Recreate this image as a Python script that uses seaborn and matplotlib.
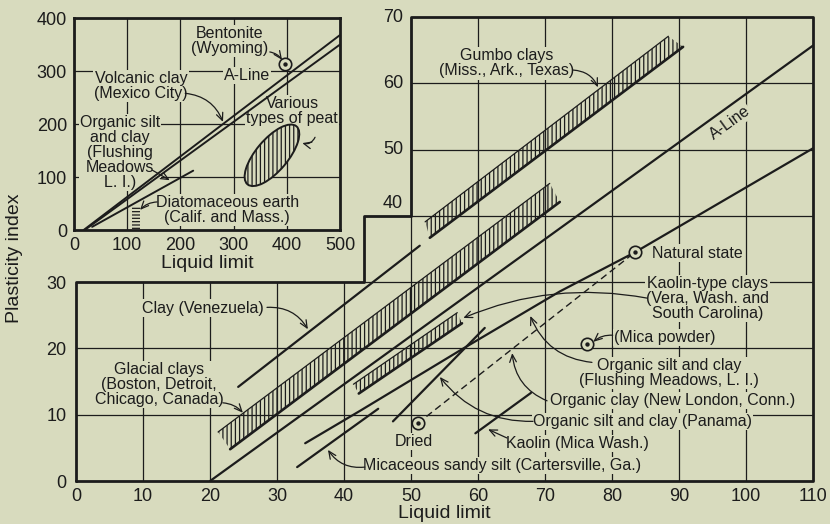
import matplotlib
matplotlib.use('Agg')
import matplotlib.pyplot as plt
import seaborn as sns
from matplotlib.patches import Ellipse, Rectangle

BG = '#d8dbbe'
INK = '#1c1c1c'

# ---- main chart: liquid limit vs plasticity index ----
a_line_ll = [20, 110]
a_line_pi = [0, 65.7]
venezuela_ll = [24.2, 51.3]
venezuela_pi = [14.2, 35.5]
gumbo_low_ll = [52.8, 90.6]
gumbo_low_pi = [36.7, 65.5]
gumbo_up_ll = [52.1, 88.4]
gumbo_up_pi = [39.1, 67.1]
glacial_low_ll = [23.0, 72.2]
glacial_low_pi = [4.8, 42.1]
glacial_up_ll = [21.2, 70.7]
glacial_up_pi = [7.4, 44.9]
kaolin_type_low_ll = [42.2, 57.6]
kaolin_type_low_pi = [13.2, 23.8]
kaolin_type_up_ll = [41.4, 56.9]
kaolin_type_up_pi = [14.6, 25.4]
flushing_ll = [34.2, 42.4, 57.8, 72.2, 83.4, 110]
flushing_pi = [5.7, 10.6, 20.0, 28.6, 34.5, 50.2]
panama_ll = [47.3, 61.0]
panama_pi = [9.0, 23.1]
micaceous_ll = [33.0, 45.1]
micaceous_pi = [2.1, 10.9]
kaolin_mica_ll = [59.6, 67.9]
kaolin_mica_pi = [7.2, 13.3]
new_london_ll = [51.0, 83.4]   # dried -> natural state
new_london_pi = [8.7, 34.5]
points_ll = [51.0, 83.4, 76.3]  # dried, natural state, mica powder
points_pi = [8.7, 34.5, 20.7]

main_xticks = list(range(0, 111, 10))
main_yticks_low = [0, 10, 20, 30]
main_yticks_up = [40, 50, 60, 70]

# ---- inset: wide range ----
inset_a_ll = [20, 500]
inset_a_pi = [0, 350]
volcanic_ll = [18, 500]
volcanic_pi = [0, 368]
inset_flushing_ll = [34, 224]
inset_flushing_pi = [6, 112]
bentonite_ll = [397]
bentonite_pi = [313]
diatom_ll = [109, 124]
diatom_pi = [0, 43]
peat_center = (372, 141)
peat_size = (143, 60)
peat_angle = 50

inset_xticks = [0, 100, 200, 300, 400, 500]
inset_yticks = [0, 100, 200, 300, 400]

# labels: text, text position, arrow start, arrow end, curvature
main_notes = [
    ('Gumbo clays\n(Miss., Ark., Texas)', (64.2, 63.0), (74.2, 62.0), (77.9, 59.4), -0.3),
    ('Kaolin-type clays\n(Vera, Wash. and\nSouth Carolina)', (94.2, 27.5), (85.2, 27.6), (57.8, 24.6), 0.15),
    ('(Mica powder)', (87.9, 21.7), (80.1, 22.0), (77.2, 21.0), 0.2),
    ('Organic silt and clay\n(Flushing Meadows, L. I.)', (88.5, 16.3), (77.0, 17.9), (67.8, 24.9), -0.3),
    ('Organic clay (New London, Conn.)', (89.0, 12.1), (70.3, 12.1), (65.1, 19.3), -0.3),
    ('Organic silt and clay (Panama)', (84.6, 9.0), (68.2, 9.0), (54.3, 15.7), -0.25),
    ('Kaolin (Mica Wash.)', (74.8, 5.7), (64.3, 6.5), (61.5, 7.8), 0.0),
    ('Micaceous sandy silt (Cartersville, Ga.)', (63.6, 2.3), (43.1, 2.1), (37.6, 4.7), -0.3),
    ('Clay (Venezuela)', (19.0, 26.1), (28.5, 26.2), (34.6, 22.9), -0.3),
    ('Glacial clays\n(Boston, Detroit,\nChicago, Canada)', (12.4, 14.6), (21.9, 11.8), (24.9, 10.3), -0.2),
]
inset_notes = [
    ('Bentonite\n(Wyoming)', (293, 357), (368, 336), (391, 321), -0.2),
    ('Volcanic clay\n(Mexico City)', (126, 272), (209, 258), (280, 204), -0.3),
    ('Various\ntypes of peat', (410, 225), (453, 175), (429, 164), -0.4),
    ('Organic silt\nand clay\n(Flushing\nMeadows\nL. I.)', (86, 147), (147, 113), (180, 94), 0.0),
    ('Diatomaceous earth\n(Calif. and Mass.)', (288, 38), (156, 53), (124, 38), 0.2),
]

sns.set_theme(style='white')
plt.rcParams['font.family'] = ['Liberation Sans', 'DejaVu Sans']
plt.rcParams['hatch.color'] = INK
plt.rcParams['hatch.linewidth'] = 0.9

fig = plt.figure(figsize=(8.3, 5.24), dpi=100, facecolor=BG)
ax = fig.add_axes([0.0916, 0.082, 0.888, 0.8855])
ax.set_facecolor('none')
ax.set_xlim(0, 110)
ax.set_ylim(0, 70)
for s in ax.spines.values():
    s.set_visible(False)

STEP = 43
# grid, cut back where the inset sits
for x in main_xticks[1:-1]:
    top = 30 if x < STEP else 70
    ax.plot([x, x], [0, top], color=INK, lw=0.9, zorder=1)
for y in range(10, 70, 10):
    left = 0 if y < 30 else (STEP if y <= 40 else 50)
    ax.plot([left, 110], [y, y], color=INK, lw=0.9, zorder=1)

frame_x = [0, 110, 110, 50, 50, STEP, STEP, 0, 0]
frame_y = [0, 0, 70, 70, 40, 40, 30, 30, 0]
ax.plot(frame_x, frame_y, color=INK, lw=2, clip_on=False, zorder=4)


def line(a, xs, ys, lw=1.6, **kw):
    sns.lineplot(x=xs, y=ys, ax=a, color=INK, lw=lw, sort=False,
                 estimator=None, legend=False, zorder=3, **kw)


def band(a, up_x, up_y, low_x, low_y):
    a.fill(up_x + low_x[::-1], up_y + low_y[::-1], facecolor='none',
           edgecolor=INK, hatch='||||', lw=0, zorder=2)
    line(a, low_x, low_y, lw=1.9)
    line(a, up_x, up_y, lw=0.9)


line(ax, a_line_ll, a_line_pi)
line(ax, venezuela_ll, venezuela_pi)
band(ax, gumbo_up_ll, gumbo_up_pi, gumbo_low_ll, gumbo_low_pi)
band(ax, glacial_up_ll, glacial_up_pi, glacial_low_ll, glacial_low_pi)
band(ax, kaolin_type_up_ll, kaolin_type_up_pi, kaolin_type_low_ll, kaolin_type_low_pi)
line(ax, flushing_ll, flushing_pi)
line(ax, panama_ll, panama_pi)
line(ax, micaceous_ll, micaceous_pi)
line(ax, kaolin_mica_ll, kaolin_mica_pi)
line(ax, new_london_ll, new_london_pi, lw=1.0, linestyle=(0, (5, 3)))

sns.scatterplot(x=points_ll, y=points_pi, ax=ax, s=80, facecolor=BG,
                edgecolor=INK, linewidth=1.2, zorder=6)
sns.scatterplot(x=points_ll, y=points_pi, ax=ax, s=10, color=INK,
                linewidth=0, zorder=7)

box = dict(fc=BG, ec='none', pad=0.8)
arrow = '->,head_length=0.45,head_width=0.2'
for txt, pos, src, dst, rad in main_notes:
    ax.text(pos[0], pos[1], txt, ha='center', va='center', fontsize=11.5,
            linespacing=1.0, color=INK, bbox=box, zorder=2.5)
    ax.annotate('', xy=dst, xytext=src, zorder=5,
                arrowprops=dict(arrowstyle=arrow, color=INK, lw=0.9,
                                shrinkA=0, shrinkB=0,
                                connectionstyle=f'arc3,rad={rad}'))
ax.text(86.0, 34.4, 'Natural state', ha='left', va='center', fontsize=11.5,
        color=INK, bbox=box, zorder=2.5)
ax.text(50.4, 6.0, 'Dried', ha='center', va='center', fontsize=11.5,
        color=INK, bbox=box, zorder=2.5)
ax.text(97.6, 54.0, 'A-Line', ha='center', va='center', fontsize=11.5,
        rotation=36, color=INK, bbox=box, zorder=2.5)

ax.set_xticks(main_xticks)
ax.set_yticks(main_yticks_low)
ax.tick_params(length=0, labelsize=13, colors=INK)
ax.tick_params(axis='x', pad=5)
ax.tick_params(axis='y', pad=7)
for v in main_yticks_up:
    ax.text(48.8, v + (1.9 if v == 40 else 0), str(v), ha='right',
            va='center', fontsize=13, color=INK)
ax.set_xlabel('Liquid limit', fontsize=14, color=INK, labelpad=0)

# ---- inset ----
ins = fig.add_axes([0.0892, 0.561, 0.3205, 0.4046])
ins.set_facecolor(BG)
ins.set_xlim(0, 500)
ins.set_ylim(0, 400)
for s in ins.spines.values():
    s.set_color(INK)
    s.set_linewidth(2)
    s.set_zorder(4)
ins.set_xticks(inset_xticks)
ins.set_yticks(inset_yticks)
ins.grid(True, color=INK, lw=0.9)
ins.tick_params(length=0, labelsize=13, colors=INK)
ins.tick_params(axis='x', pad=5)
ins.tick_params(axis='y', pad=5)
ins.set_xlabel('Liquid limit', fontsize=14, color=INK, labelpad=1)

line(ins, inset_a_ll, inset_a_pi, lw=1.4)
line(ins, volcanic_ll, volcanic_pi, lw=1.4)
line(ins, inset_flushing_ll, inset_flushing_pi, lw=1.4)
ins.add_patch(Rectangle((diatom_ll[0], diatom_pi[0]), diatom_ll[1] - diatom_ll[0],
                        diatom_pi[1] - diatom_pi[0], facecolor=BG,
                        edgecolor=INK, lw=0, hatch='-----', zorder=3))
ins.add_patch(Ellipse(peat_center, peat_size[0], peat_size[1], angle=peat_angle,
                      facecolor=BG, edgecolor=INK, lw=1.4, hatch='||||', zorder=3))
sns.scatterplot(x=bentonite_ll, y=bentonite_pi, ax=ins, s=80, facecolor=BG,
                edgecolor=INK, linewidth=1.2, zorder=6)
sns.scatterplot(x=bentonite_ll, y=bentonite_pi, ax=ins, s=10, color=INK,
                linewidth=0, zorder=7)
for txt, pos, src, dst, rad in inset_notes:
    ins.text(pos[0], pos[1], txt, ha='center', va='center', fontsize=11.5,
             linespacing=1.0, color=INK, bbox=box, zorder=2.5)
    ins.annotate('', xy=dst, xytext=src, zorder=5,
                 arrowprops=dict(arrowstyle=arrow, color=INK, lw=0.9,
                                 shrinkA=0, shrinkB=0,
                                 connectionstyle=f'arc3,rad={rad}'))
ins.text(325, 291, 'A-Line', ha='center', va='center', fontsize=11.5,
         color=INK, bbox=box, zorder=2.5)

fig.text(0.018, 0.508, 'Plasticity index', rotation=90, ha='center',
         va='center', fontsize=14, color=INK)

fig.savefig('out.png', dpi=100, facecolor=BG)
